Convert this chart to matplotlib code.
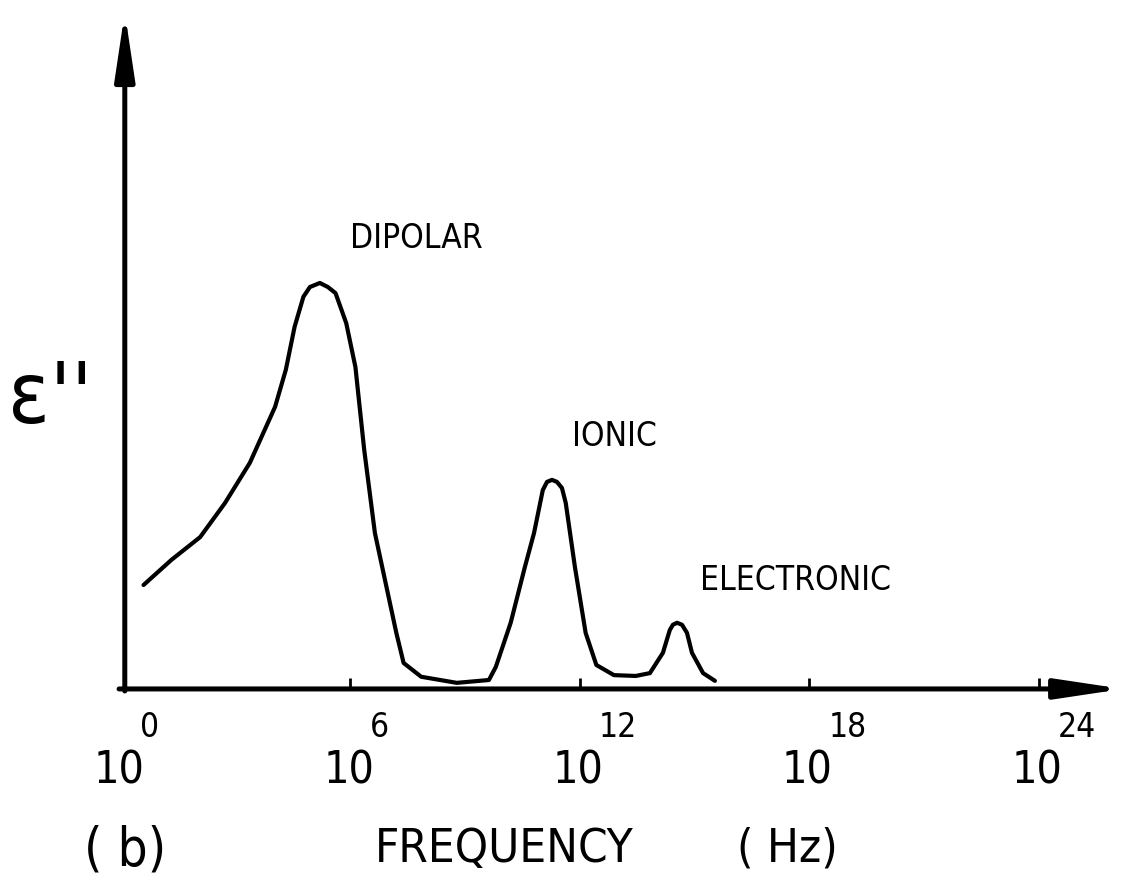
import numpy as np
import matplotlib.pyplot as plt

# loss spectrum, x in decades of frequency (log10 Hz), y in arbitrary units
log_freq = [0.59, 1.32, 2.07, 2.72, 3.37, 4.03, 4.31, 4.54, 4.77, 4.94, 5.20,
            5.41, 5.61, 5.89, 6.13, 6.36, 6.64, 6.92, 7.20, 7.39, 7.85, 8.78,
            9.62, 9.80, 10.19, 10.56, 10.80, 11.03, 11.14, 11.27, 11.40, 11.53,
            11.63, 11.87, 12.15, 12.43, 12.89, 13.46, 13.83, 14.17, 14.35, 14.43,
            14.54, 14.67, 14.80, 14.93, 15.22, 15.53]
eps_loss = [0.256, 0.318, 0.374, 0.458, 0.557, 0.695, 0.786, 0.892, 0.966, 0.990, 1.000,
            0.990, 0.975, 0.901, 0.793, 0.589, 0.384, 0.261, 0.138, 0.064, 0.030, 0.015,
            0.022, 0.054, 0.163, 0.300, 0.384, 0.490, 0.510, 0.515, 0.510, 0.495,
            0.458, 0.300, 0.138, 0.059, 0.034, 0.032, 0.039, 0.089, 0.145, 0.158,
            0.163, 0.158, 0.138, 0.089, 0.039, 0.020]

tick_exp = [0, 6, 12, 18, 24]
tick_labels = ['0', '6', '12', '18', '24']

peak_names = ['DIPOLAR', 'IONIC', 'ELECTRONIC']
peak_label_pos = [(5.99, 1.086), (11.79, 0.599), (15.14, 0.244)]

font = dict(family='DejaVu Sans', fontstretch='condensed')

plt.close('all')
fig = plt.figure(figsize=(11.36, 8.83), dpi=100)
ax = fig.add_axes([0, 0, 1, 1])
ax.set_xlim(-3.163, 26.54)
ax.set_ylim(-0.478, 1.697)
ax.axis('off')

# hand drawn style axes with arrow heads
arrow = dict(arrowstyle='-|>,head_length=2.0,head_width=0.3', lw=3.6,
             color='black', mutation_scale=20, shrinkA=0, shrinkB=0)
ax.annotate('', xy=(0.1, 1.667), xytext=(0.1, -0.005), arrowprops=arrow)
ax.annotate('', xy=(26.2, 0), xytext=(-0.05, 0), arrowprops=arrow)

# small tick marks
ax.vlines(tick_exp[1:], 0, 0.028, color='black', lw=2)

ax.plot(log_freq, eps_loss, color='black', lw=3, solid_capstyle='round', solid_joinstyle='round')

for t, lab in zip(tick_exp, tick_labels):
    ax.text(t - 0.05, -0.232, '10', ha='center', va='baseline', fontsize=32, **font)
    ax.text(t + 0.5, -0.118, lab, ha='left', va='baseline', fontsize=24, **font)

for name, (x, y) in zip(peak_names, peak_label_pos):
    ax.text(x, y, name, ha='left', va='baseline', fontsize=24, **font)

ax.text(-2.95, 0.656, "\u03b5''", ha='left', va='baseline', fontsize=62, **font)
ax.text(-0.97, -0.435, '( b)', ha='left', va='baseline', fontsize=38, **font)
ax.text(6.63, -0.426, 'FREQUENCY', ha='left', va='baseline', fontsize=34, **font)
ax.text(16.1, -0.426, '( Hz)', ha='left', va='baseline', fontsize=34, **font)

fig.savefig('out.png', dpi=100)
